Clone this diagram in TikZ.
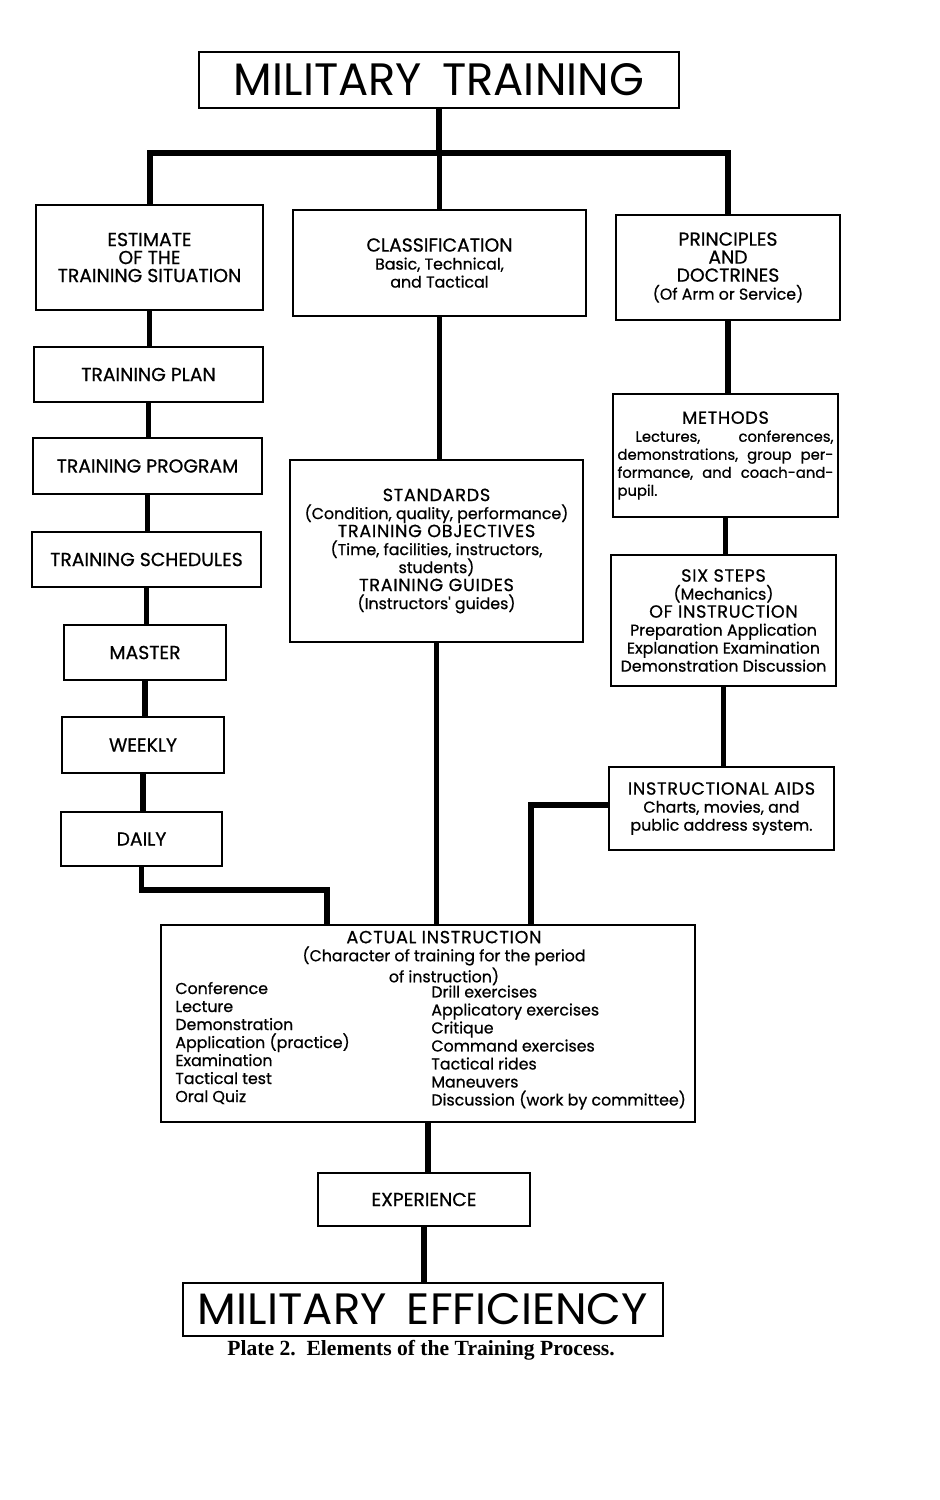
\documentclass[tikz,border=0pt]{standalone}
\usepackage{fontspec}
\setmainfont{Poppins}
\newfontfamily\bodyfont{Poppins}[FakeBold=0.7]
\newfontfamily\spacedfont{Poppins}[FakeBold=0.7,LetterSpace=4]
\newfontfamily\capfont{Liberation Serif}
\usetikzlibrary{calc}
\newcommand\lc{\bodyfont\fontsize{7.9}{9}\selectfont}
\newcommand\mlc{\bodyfont\fontsize{7.4}{9}\selectfont}
\newcommand\uc{\bodyfont\fontsize{9.4}{9}\selectfont}
\newcommand\ucs{\spacedfont\fontsize{8.8}{9}\selectfont}
\begin{document}
\begin{tikzpicture}[x=0.5pt,y=-0.5pt,
  box/.style={draw,line width=1.1pt,inner sep=0pt,align=center,font=\lc},
  capbox/.style={box,font=\uc},
  wh/.style 2 args={minimum width={(#1)*0.5pt},minimum height={(#2)*0.5pt}},
  conn/.style={line width=2.6pt},
  txt/.style={inner sep=0pt,align=left,font=\lc}]
\useasboundingbox[fill=white] (0,0) rectangle (940,1500);
% boxes
\node[box,wh={480}{56}] (mt) at (439,80) {\resizebox{205pt}{16pt}{\normalfont MILITARY\hspace{0.45em}TRAINING}};
\node[capbox,wh={227}{105}] (est) at (149.5,257.5) {ESTIMATE\\OF THE\\TRAINING SITUATION};
\node[box,wh={293}{106}] (cls) at (439.5,263) {{\uc CLASSIFICATION}\\Basic, Technical,\\and Tactical};
\node[box,wh={224}{105}] (prin) at (728,267.5) {{\uc PRINCIPLES}\\{\uc AND}\\{\uc DOCTRINES}\\(Of Arm or Service)};
\node[capbox,wh={229}{55}] (plan) at (148.5,374.5) {TRAINING PLAN};
\node[capbox,wh={229}{56}] (prog) at (147.5,466) {TRAINING PROGRAM};
\node[capbox,wh={229}{55}] (sched) at (146.5,559.5) {TRAINING SCHEDULES};
\node[capbox,wh={162}{55}] (master) at (145,652.5) {MASTER};
\node[capbox,wh={162}{56}] (weekly) at (143,745) {WEEKLY};
\node[capbox,wh={161}{54}] (daily) at (141.5,839) {DAILY};
\node[box,wh={293}{182}] (std) at (436.5,551) {{\ucs STANDARDS}\\(Condition, quality, performance)\\{\ucs TRAINING OBJECTIVES}\\(Time, facilities, instructors,\\students)\\{\ucs TRAINING GUIDES}\\(Instructors' guides)};
\node[box,wh={225}{123}] (meth) at (725.5,455.5) {{\ucs METHODS}\\
  {\mlc\hbox to 108pt{\hspace{9pt}Lectures,\hfill conferences,}}\\
  {\mlc\hbox to 108pt{demonstrations,\hfill group\hfill per-}}\\
  {\mlc\hbox to 108pt{formance,\hfill and\hfill coach-and-}}\\
  {\mlc\hbox to 108pt{pupil.\hfill}}};
\node[box,wh={225}{131}] (six) at (723.5,620.5) {{\ucs SIX STEPS}\\(Mechanics)\\{\ucs OF INSTRUCTION}\\Preparation Application\\Explanation Examination\\Demonstration Discussion};
\node[box,wh={225}{83}] (aids) at (721.5,808.5) {{\ucs INSTRUCTIONAL AIDS}\\Charts, movies, and\\public address system.};
\node[box,wh={534}{197}] (act) at (428,1023.5) {};
\node[txt,align=center] (acttitle) at (444,958) {{\ucs ACTUAL INSTRUCTION}\\(Character of training for the period\\of instruction)};
\node[txt,anchor=west] (actleft) at (175,1043) {Conference\\Lecture\\Demonstration\\Application (practice)\\Examination\\Tactical test\\Oral Quiz};
\node[txt,anchor=west] (actright) at (431,1047.5) {Drill exercises\\Applicatory exercises\\Critique\\Command exercises\\Tactical rides\\Maneuvers\\Discussion (work by committee)};
\node[capbox,wh={212}{53}] (exp) at (424,1199.5) {EXPERIENCE};
\node[box,wh={480}{53}] (eff) at (423,1309.5) {\resizebox{225pt}{15.5pt}{\normalfont MILITARY\hspace{0.45em}EFFICIENCY}};
\node[inner sep=0pt,font=\capfont\bfseries\fontsize{10.8}{12}\selectfont] (cap) at (421,1350) {Plate 2.\ \ Elements of the Training Process.};
% connectors
\coordinate (bar) at (0,153);
\draw[conn,line width=3pt] (mt.south) -- (mt.south |- bar);
\draw[conn,line width=3pt] (est.north) |- (prin.north |- bar) -- (prin.north);
\draw[conn] (cls.north) -- (cls.north |- bar);
\draw[conn] (est.south) -- (est.south |- plan.north);
\draw[conn] (plan.south) -- (plan.south |- prog.north);
\draw[conn] (prog.south) -- (prog.south |- sched.north);
\draw[conn] (sched.south) -- (sched.south |- master.north);
\draw[conn] (master.south) -- (master.south |- weekly.north);
\draw[conn] (weekly.south) -- (weekly.south |- daily.north);
\coordinate (dj) at (327,890);
\draw[conn] (daily.south) |- (dj) -- (dj |- act.north);
\draw[conn] (cls.south) -- (cls.south |- std.north);
\draw[conn] (std.south) -- (std.south |- act.north);
\draw[conn] (prin.south) -- (prin.south |- meth.north);
\draw[conn] (meth.south) -- (meth.south |- six.north);
\draw[conn] (six.south) -- (six.south |- aids.north);
\coordinate (aj) at (531,805);
\draw[conn] (aids.west |- aj) -- (aj) -- (aj |- act.north);
\draw[conn] (act.south) -- (act.south |- exp.north);
\draw[conn] (exp.south) -- (exp.south |- eff.north);
\end{tikzpicture}
\end{document}
